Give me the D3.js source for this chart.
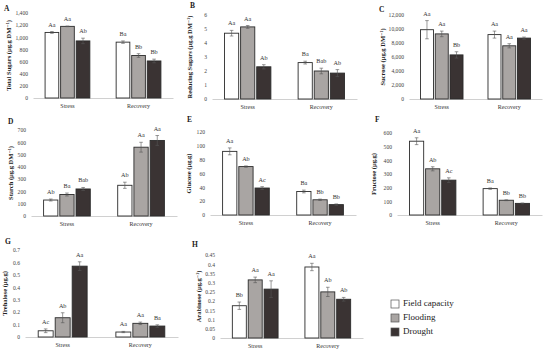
<!DOCTYPE html>
<html>
<head>
<meta charset="utf-8">
<script src="https://cdn.jsdelivr.net/npm/d3@7"></script>
<style>
  body { margin: 0; background: #fff; }
  svg text { font-family: "Liberation Serif", "DejaVu Serif", serif; }
</style>
</head>
<body>
<div id="chart"></div>
<script>
// categories
const groups = ["Stress", "Recovery"];
const conditions = ["Field capacity", "Flooding", "Drought"];

// means per panel: [Stress FC, Fl, Dr], [Recovery FC, Fl, Dr]
const totalSugars = [[1080, 1180, 940], [920, 700, 610]];
const totalSugarsErr = [[15, 5, 45], [20, 30, 30]];
const totalSugarsLetters = [["Aa", "Aa", "Ab"], ["Ba", "Bb", "Bb"]];

const reducingSugars = [[4.7, 5.15, 2.3], [2.6, 2.0, 1.85]];
const reducingSugarsErr = [[0.2, 0.1, 0.15], [0.1, 0.2, 0.25]];
const reducingSugarsLetters = [["Aa", "Aa", "Ab"], ["Ba", "Bab", "Ab"]];

const sucrose = [[9900, 9300, 6300], [9200, 7600, 8700]];
const sucroseErr = [[1300, 400, 450], [500, 300, 150]];
const sucroseLetters = [["Aa", "Aa", "Bb"], ["Aa", "Aa", "Aa"]];

const starch = [[130, 175, 220], [250, 560, 615]];
const starchErr = [[8, 12, 12], [25, 40, 40]];
const starchLetters = [["Ab", "Ba", "Bab"], ["Ab", "Aa", "Aa"]];

const glucose = [[92, 70, 39], [34, 22, 15]];
const glucoseErr = [[5, 1, 2], [2, 1, 1]];
const glucoseLetters = [["Aa", "Ab", "Ac"], ["Ba", "Bb", "Bb"]];

const fructose = [[540, 338, 255], [193, 108, 85]];
const fructoseErr = [[25, 15, 17], [5, 3, 3]];
const fructoseLetters = [["Aa", "Ab", "Ac"], ["Ba", "Bb", "Bb"]];

const trehalose = [[0.05, 0.155, 0.57], [0.04, 0.11, 0.088]];
const trehaloseErr = [[0.015, 0.04, 0.035], [0.005, 0.01, 0.01]];
const trehaloseLetters = [["Ac", "Ab", "Aa"], ["Aa", "Aa", "Ba"]];

const arabinose = [[0.175, 0.315, 0.265], [0.385, 0.25, 0.21]];
const arabinoseErr = [[0.02, 0.015, 0.045], [0.02, 0.025, 0.01]];
const arabinoseLetters = [["Bb", "Aa", "Aa"], ["Aa", "Ab", "Ab"]];

// tick labels
const ticksA = [0, 200, 400, 600, 800, 1000, 1200, 1400];
const ticksB = [0, 1, 2, 3, 4, 5, 6];
const ticksC = [0, 2000, 4000, 6000, 8000, 10000, 12000];
const ticksD = [0, 100, 200, 300, 400, 500, 600, 700];
const ticksE = [0, 20, 40, 60, 80, 100, 120];
const ticksF = [0, 100, 200, 300, 400, 500, 600];
const ticksG = [0, 0.1, 0.2, 0.3, 0.4, 0.5, 0.6, 0.7];
const ticksH = [0, 0.05, 0.1, 0.15, 0.2, 0.25, 0.3, 0.35, 0.4, 0.45];

const serif = "Liberation Serif, DejaVu Serif, serif";
const color = d3.scaleOrdinal().domain(conditions).range(["#ffffff", "#a9a5a3", "#3a3333"]);

const width = 550, height = 355;
const svg = d3.select("#chart").append("svg").attr("width", width).attr("height", height)
  .attr("font-family", serif);

// panel layout: x range of axis line, y of top tick and baseline
const panels = [
  { tag: "A", title: "Total Sugars (µg.g DM⁻¹)", v: totalSugars, e: totalSugarsErr, l: totalSugarsLetters, ticks: ticksA,
    x: [33, 173], y: [13, 98], tagPos: [4, 9], titleX: 10 },
  { tag: "B", title: "Reducing Sugars (µg.g DM⁻¹)", v: reducingSugars, e: reducingSugarsErr, l: reducingSugarsLetters, ticks: ticksB,
    x: [212, 357], y: [15, 99], tagPos: [190, 6], titleX: 191 },
  { tag: "C", title: "Sucrose (µg.g DM⁻¹)", v: sucrose, e: sucroseErr, l: sucroseLetters, ticks: ticksC,
    x: [409, 542], y: [15, 99], tagPos: [379, 10], titleX: 384 },
  { tag: "D", title: "Starch (µg.g DM⁻¹)", v: starch, e: starchErr, l: starchLetters, ticks: ticksD,
    x: [31, 177], y: [130, 216], tagPos: [8, 122], titleX: 12 },
  { tag: "E", title: "Glucose (µg.g)", v: glucose, e: glucoseErr, l: glucoseLetters, ticks: ticksE,
    x: [210, 356], y: [132, 215], tagPos: [187, 120], titleX: 190 },
  { tag: "F", title: "Fructose (µg.g)", v: fructose, e: fructoseErr, l: fructoseLetters, ticks: ticksF,
    x: [397, 542], y: [133, 215], tagPos: [375, 120], titleX: 375 },
  { tag: "G", title: "Trehalose (µg.g)", v: trehalose, e: trehaloseErr, l: trehaloseLetters, ticks: ticksG,
    x: [25, 178], y: [250, 337], tagPos: [5, 242], titleX: 6 },
  { tag: "H", title: "Arabinose (µg.g⁻¹)", v: arabinose, e: arabinoseErr, l: arabinoseLetters, ticks: ticksH,
    x: [220, 363], y: [255, 338], tagPos: [192, 245], titleX: 200 }
];

panels.forEach(function (p) {
  const g = svg.append("g");

  const x0 = d3.scaleBand().domain(groups).range(p.x).paddingInner(0.37).paddingOuter(0.17);
  const x1 = d3.scaleBand().domain(conditions).range([0, x0.bandwidth()]).paddingInner(0.12);
  const y = d3.scaleLinear().domain([0, d3.max(p.ticks)]).range([p.y[1], p.y[0]]);

  // Y axis labels only (no line, no ticks)
  const yAxis = g.append("g")
    .attr("transform", `translate(${p.x[0]},0)`)
    .call(d3.axisLeft(y).tickValues(p.ticks).tickSize(0).tickPadding(5)
      .tickFormat((d) => d.toLocaleString("en-US")));
  yAxis.attr("font-family", serif);
  yAxis.select(".domain").remove();
  yAxis.selectAll("text").attr("font-size", 5.6).attr("fill", "#444");

  // X axis baseline + category labels
  const xAxis = g.append("g")
    .attr("transform", `translate(0,${p.y[1]})`)
    .call(d3.axisBottom(x0).tickSize(0).tickPadding(6).tickSizeOuter(0));
  xAxis.attr("font-family", serif);
  xAxis.select(".domain").attr("stroke", "#d0d0d0");
  xAxis.selectAll("text").attr("font-size", 6).attr("fill", "#333");

  // rows: flatten
  const rows = [];
  groups.forEach((grp, gi) => {
    conditions.forEach((c, ci) => {
      rows.push({ grp: grp, cond: c, val: p.v[gi][ci], err: p.e[gi][ci], lab: p.l[gi][ci] });
    });
  });

  // bars
  g.selectAll("rect.bar").data(rows).join("rect")
    .attr("class", "bar")
    .attr("x", (d) => x0(d.grp) + x1(d.cond))
    .attr("y", (d) => y(d.val))
    .attr("width", x1.bandwidth())
    .attr("height", (d) => y(0) - y(d.val))
    .attr("fill", (d) => color(d.cond))
    .attr("stroke", "#2b2b2b")
    .attr("stroke-width", 0.9);

  // error bars
  const eb = g.selectAll("g.err").data(rows).join("g").attr("class", "err")
    .attr("stroke", "#555").attr("stroke-width", 0.6);
  eb.append("line")
    .attr("x1", (d) => x0(d.grp) + x1(d.cond) + x1.bandwidth() / 2)
    .attr("x2", (d) => x0(d.grp) + x1(d.cond) + x1.bandwidth() / 2)
    .attr("y1", (d) => y(d.val - d.err))
    .attr("y2", (d) => y(d.val + d.err));
  [-1, 1].forEach((s) => {
    eb.append("line")
      .attr("x1", (d) => x0(d.grp) + x1(d.cond) + x1.bandwidth() / 2 - 1.8)
      .attr("x2", (d) => x0(d.grp) + x1(d.cond) + x1.bandwidth() / 2 + 1.8)
      .attr("y1", (d) => y(d.val + s * d.err))
      .attr("y2", (d) => y(d.val + s * d.err));
  });

  // significance letters
  g.selectAll("text.sig").data(rows).join("text")
    .attr("class", "sig")
    .attr("x", (d) => x0(d.grp) + x1(d.cond) + x1.bandwidth() / 2)
    .attr("y", (d) => y(d.val + d.err) - 5)
    .attr("text-anchor", "middle")
    .attr("font-size", 6.2)
    .attr("fill", "#333")
    .text((d) => d.lab);

  // y title
  g.append("text")
    .attr("transform", `translate(${p.titleX},${(p.y[0] + p.y[1]) / 2}) rotate(-90)`)
    .attr("text-anchor", "middle")
    .attr("dominant-baseline", "middle")
    .attr("font-size", 6.5)
    .attr("font-weight", "bold")
    .attr("fill", "#222")
    .text(p.title);

  // panel tag
  g.append("text")
    .attr("x", p.tagPos[0])
    .attr("y", p.tagPos[1])
    .attr("dominant-baseline", "middle")
    .attr("font-size", 7.5)
    .attr("font-weight", "bold")
    .attr("fill", "#222")
    .text(p.tag);
});

// legend
const legend = svg.append("g").attr("transform", "translate(391,304)");
conditions.forEach((c, i) => {
  legend.append("rect")
    .attr("x", 0).attr("y", i * 14 - 4)
    .attr("width", 8).attr("height", 8)
    .attr("fill", color(c))
    .attr("stroke", "#555").attr("stroke-width", 0.7);
  legend.append("text")
    .attr("x", 12).attr("y", i * 14)
    .attr("dominant-baseline", "middle")
    .attr("font-size", 9)
    .attr("fill", "#222")
    .text(c);
});
</script>
</body>
</html>
